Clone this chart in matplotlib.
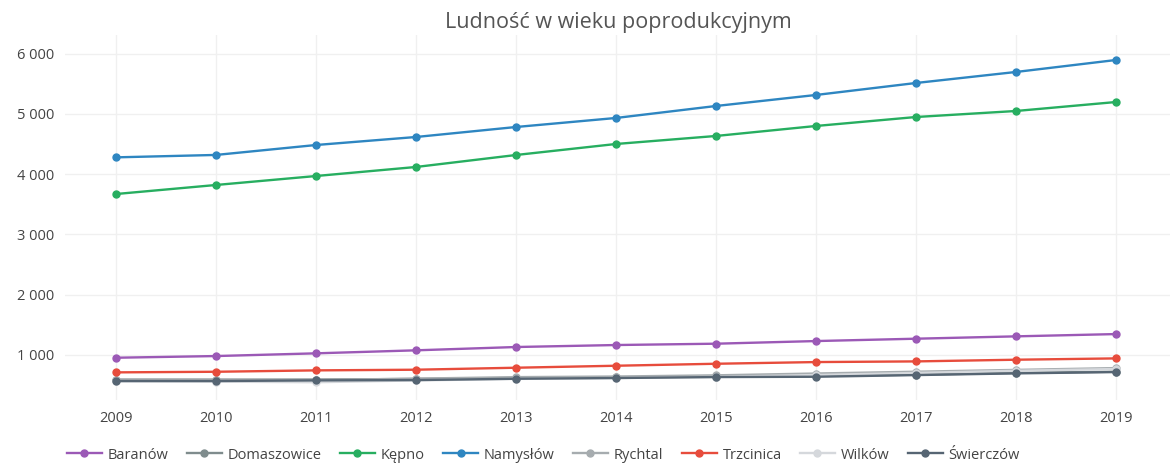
import matplotlib.pyplot as plt
from matplotlib.ticker import FuncFormatter

plt.rcParams['font.family'] = ['Open Sans', 'DejaVu Sans']

years = [2009, 2010, 2011, 2012, 2013, 2014, 2015, 2016, 2017, 2018, 2019]

baranow = [952, 980, 1025, 1075, 1130, 1163, 1185, 1229, 1268, 1307, 1345]
domaszowice = [585, 585, 590, 600, 615, 625, 640, 650, 670, 700, 720]
kepno = [3671, 3821, 3970, 4120, 4319, 4502, 4635, 4801, 4950, 5050, 5199]
namyslow = [4280, 4320, 4485, 4618, 4784, 4934, 5133, 5316, 5515, 5698, 5897]
rychtal = [590, 590, 580, 605, 630, 640, 660, 690, 720, 750, 780]
trzcinica = [709, 719, 742, 753, 786, 819, 852, 880, 891, 919, 941]
wilkow = [560, 555, 545, 575, 600, 615, 635, 665, 700, 735, 765]
swierczow = [565, 565, 576, 581, 603, 615, 631, 636, 664, 692, 714]

series = [
    ('Baranów', baranow, '#9b59b6'),
    ('Domaszowice', domaszowice, '#7f8c8d'),
    ('Kępno', kepno, '#27ae60'),
    ('Namysłów', namyslow, '#2e86c1'),
    ('Rychtal', rychtal, '#a6acaf'),
    ('Trzcinica', trzcinica, '#e74c3c'),
    ('Wilków', wilkow, '#d5d8dc'),
    ('Świerczów', swierczow, '#566573'),
]

fig = plt.figure(figsize=(11.71, 4.70), dpi=100)
ax = fig.add_axes([65 / 1171, 1 - 400 / 470, 1105 / 1171, 365 / 470])

for name, vals, color in series:
    ax.plot(years, vals, color=color, lw=1.7, marker='o', ms=5, label=name)

ax.set_xlim(2008.49, 2019.54)
ax.set_ylim(250, 6312)
ax.set_xticks(years)
ax.set_yticks([1000, 2000, 3000, 4000, 5000, 6000])
ax.yaxis.set_major_formatter(FuncFormatter(lambda v, p: f'{int(v):,}'.replace(',', ' ')))
ax.grid(True, color='#f0f0f0', lw=1)
ax.set_axisbelow(True)
for s in ax.spines.values():
    s.set_visible(False)
ax.tick_params(length=0, labelsize=10.5, colors='#444444', pad=8)

fig.suptitle('Ludność w wieku poprodukcyjnym', x=0.528, y=0.975, fontsize=15.5, color='#555555')

fig.legend(loc='lower left', bbox_to_anchor=(0.046, -0.012), ncol=8, frameon=False,
           fontsize=10.5, handlelength=2.4, columnspacing=1.25, handletextpad=0.4,
           labelcolor='#444444')

fig.savefig('out.png', dpi=100)
